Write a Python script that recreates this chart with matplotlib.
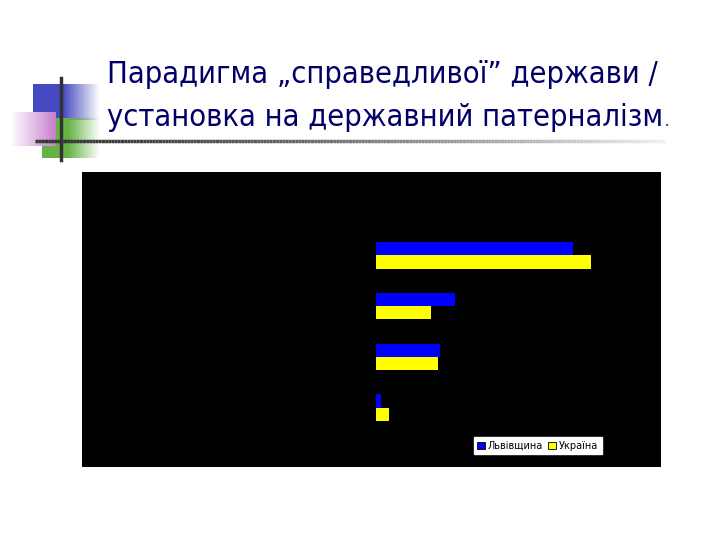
import numpy as np
import matplotlib.pyplot as plt
from matplotlib.patches import Patch

# Дані (частки, %)
categories = ['1', '2', '3', '4']
lviv = [57.1, 22.9, 18.6, 1.4]
ukraine = [62.3, 15.9, 18.0, 3.8]
series_names = ['Львівщина', 'Україна']

W, H = 720, 540
fig = plt.figure(figsize=(7.2, 5.4), dpi=100)
fig.patch.set_facecolor('white')


def fax(x0, y0, x1, y1):
    # осі у піксельних координатах (верх-ліво)
    return fig.add_axes([x0 / W, 1 - y1 / H, (x1 - x0) / W, (y1 - y0) / H])


def grad_square(x0, y0, x1, y1, rgb, z, solid=0.45):
    ax = fax(x0, y0, x1, y1)
    ax.set_zorder(z)
    img = np.zeros((2, 100, 4))
    img[..., :3] = rgb
    t = np.linspace(0, 1, 100)
    img[..., 3] = np.clip(1 - (t - solid) / (1 - solid), 0, 1)
    ax.imshow(img, aspect='auto', extent=(0, 1, 0, 1))
    ax.axis('off')


# декоративні квадрати
grad_square(33, 84, 100, 120, (0.27, 0.29, 0.75), 1)
grad_square(42, 118, 100, 158, (0.40, 0.70, 0.27), 1)
pink = fax(10, 112, 55, 146)
pink.set_zorder(2)
pimg = np.ones((2, 64, 3))
t = np.linspace(0, 1, 64)
pimg[..., 0] = 1 - 0.22 * t
pimg[..., 1] = 1 - 0.5 * t
pimg[..., 2] = 1 - 0.2 * t
pink.imshow(pimg, aspect='auto', extent=(0, 1, 0, 1))
pink.axis('off')

deco = fig.add_axes([0, 0, 1, 1], facecolor='none')
deco.set_xlim(0, W)
deco.set_ylim(H, 0)
deco.axis('off')
deco.set_zorder(3)
deco.plot([61, 61], [78, 160], color='#333333', lw=2.5)
xs = np.linspace(35, 665, 200)
for i in range(len(xs) - 1):
    c = 0.2 + 0.75 * (i / len(xs)) ** 1.5
    deco.plot(xs[i:i + 2], [141, 141], color=(c, c, c), lw=2.5, solid_capstyle='butt')

# заголовок
t1 = fig.text(107 / W, 1 - 83 / H, 'Парадигма „справедливої” держави /',
              fontsize=23, color='#000066', family='DejaVu Sans', stretch='condensed')
t2 = fig.text(107 / W, 1 - 126 / H, 'установка на державний патерналізм',
              fontsize=23, color='#000066', family='DejaVu Sans', stretch='condensed')
fig.canvas.draw()
w1 = t1.get_window_extent().width
if w1 > 560:
    # вузького шрифту немає - зменшуємо розмір
    s = 23 * 553 / w1
    t1.set_fontsize(s)
    t2.set_fontsize(s)
    fig.canvas.draw()
bb = t2.get_window_extent()
fig.text(bb.x1 / W + 0.001, 1 - 126 / H, '.', fontsize=14, color='#555555',
         family='DejaVu Sans')

# чорна панель діаграми
panel = fax(82, 172, 661, 467)
panel.set_facecolor('black')
panel.set_xticks([])
panel.set_yticks([])
for s in panel.spines.values():
    s.set_visible(False)

# стовпчики
ax = fax(376, 172, 661, 467)
ax.patch.set_alpha(0)
y = np.arange(len(categories))
h = 0.26
ax.barh(y - h / 2, lviv, height=h, color='#0000ff', edgecolor='none')
ax.barh(y + h / 2, ukraine, height=h, color='#ffff00', edgecolor='none')
ax.set_xlim(0, 285 / 3.45)
ax.set_ylim(4.174, -1.647)
ax.axis('off')

handles = [Patch(facecolor='#0000ff', edgecolor='black', lw=0.6),
           Patch(facecolor='#ffff00', edgecolor='black', lw=0.6)]
leg = fig.legend(handles, series_names, loc='lower left', ncol=2,
                 bbox_to_anchor=(474 / W, 1 - 454 / H), fontsize=7,
                 frameon=True, fancybox=False, framealpha=1,
                 handlelength=0.8, handleheight=0.8, handletextpad=0.3,
                 columnspacing=0.5, borderpad=0.35, borderaxespad=0)
leg.get_frame().set_edgecolor('white')
leg.set_zorder(10)

fig.savefig('out.png', dpi=100, facecolor='white')
